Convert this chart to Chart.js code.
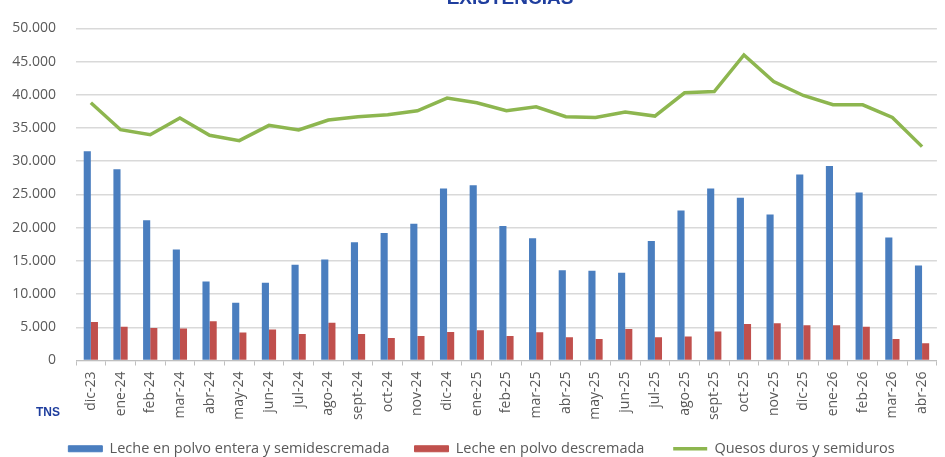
<!DOCTYPE html>
<html><head><meta charset="utf-8">
<script src="https://cdn.jsdelivr.net/npm/chart.js@4"></script>
<style>
html,body{margin:0;padding:0;background:#fff;overflow:hidden;width:945px;height:457px;}
#wrap{position:absolute;left:0;top:0;width:945px;height:466px;}
</style></head><body>
<div id="wrap"><canvas id="c"></canvas></div>
<script>
const categories = ['dic-23','ene-24','feb-24','mar-24','abr-24','may-24','jun-24','jul-24','ago-24','sept-24','oct-24','nov-24','dic-24','ene-25','feb-25','mar-25','abr-25','may-25','jun-25','jul-25','ago-25','sept-25','oct-25','nov-25','dic-25','ene-26','feb-26','mar-26','abr-26'];
const enteraValues = [31500, 28800, 21100, 16700, 11900, 8700, 11700, 14400, 15200, 17800, 19200, 20600, 25900, 26400, 20250, 18400, 13600, 13500, 13200, 18000, 22600, 25900, 24500, 22000, 28000, 29300, 25300, 18500, 14300];
const descremadaValues = [5800, 5100, 4900, 4800, 5900, 4200, 4650, 4000, 5700, 4000, 3400, 3700, 4300, 4550, 3700, 4250, 3500, 3250, 4750, 3500, 3600, 4350, 5500, 5600, 5300, 5300, 5100, 3250, 2600];
const quesosValues = [38800, 34750, 34000, 36500, 33900, 33100, 35400, 34700, 36200, 36700, 37000, 37600, 39500, 38800, 37600, 38200, 36700, 36600, 37400, 36800, 40300, 40500, 46000, 42000, 39900, 38500, 38500, 36600, 32200];
const seriesNames = ['Leche en polvo entera y semidescremada', 'Leche en polvo descremada', 'Quesos duros y semiduros'];
const yTicks = [0, 5000, 10000, 15000, 20000, 25000, 30000, 35000, 40000, 45000, 50000];
const titleText = 'EXISTENCIAS';
const sourceText = 'TNS';

const BLUE = '#4A7EBF', RED = '#C0504D', GREEN = '#8DB64F';
const fmt = v => v === 0 ? '0' : String(v).replace(/\B(?=(\d{3})+(?!\d))/g, '.');
const legendSpacers = ['    ', '     ', ''];

const extraText = {
  id: 'extraText',
  afterLayout(chart) {
    if (chart.legend) { chart.legend.left += 13; chart.legend.right += 13; }
  },
  afterDraw(chart) {
    const ctx = chart.ctx;
    ctx.save();
    ctx.fillStyle = '#1F3E9E';
    ctx.font = "bold 19px 'Liberation Sans', Arial, sans-serif";
    ctx.textAlign = 'center';
    ctx.textBaseline = 'alphabetic';
    ctx.fillText(titleText, 510, 4);
    ctx.font = "bold 12px 'Liberation Sans Narrow', 'Liberation Sans', Arial, sans-serif";
    ctx.textAlign = 'left';
    ctx.textBaseline = 'middle';
    ctx.fillText(sourceText, 36, 413);
    ctx.restore();
  }
};

Chart.defaults.font.family = "'Open Sans', sans-serif";
Chart.defaults.color = '#595959';

new Chart(document.getElementById('c'), {
  type: 'bar',
  data: {
    labels: categories,
    datasets: [
      { type: 'bar', label: seriesNames[0], data: enteraValues, backgroundColor: BLUE, borderColor: BLUE, borderWidth: 0, order: 2, categoryPercentage: 0.48, barPercentage: 1.0 },
      { type: 'bar', label: seriesNames[1], data: descremadaValues, backgroundColor: RED, borderColor: RED, borderWidth: 0, order: 2, categoryPercentage: 0.48, barPercentage: 1.0 },
      { type: 'line', label: seriesNames[2], data: quesosValues, borderColor: GREEN, backgroundColor: GREEN, borderWidth: 3.5, pointRadius: 0, tension: 0, order: 1 }
    ]
  },
  options: {
    responsive: true,
    maintainAspectRatio: false,
    animation: false,
    layout: { padding: { top: 16, right: 8, left: 0, bottom: 0 } },
    plugins: {
      title: { display: false },
      tooltip: { enabled: false },
      legend: {
        position: 'bottom',
        labels: {
          font: { size: 14.5 },
          color: '#595959',
          usePointStyle: true,
          pointStyleWidth: 34,
          boxWidth: 34,
          boxHeight: 6,
          padding: 10,
          generateLabels(chart) {
            return chart.data.datasets.map((ds, i) => ({
              text: ds.label + legendSpacers[i],
              fillStyle: ds.backgroundColor,
              strokeStyle: ds.borderColor,
              lineWidth: ds.type === 'line' ? 3.5 : 1,
              pointStyle: ds.type === 'line' ? 'line' : 'rect',
              rotation: 0,
              hidden: false,
              datasetIndex: i,
              fontColor: '#595959'
            }));
          }
        }
      }
    },
    scales: {
      x: {
        offset: true,
        grid: { offset: true, drawOnChartArea: false, drawTicks: true, tickLength: 5, color: '#BFBFBF' },
        border: { display: true, color: '#BFBFBF', width: 1 },
        ticks: { autoSkip: false, minRotation: 90, maxRotation: 90, padding: 6, font: { size: 14 }, color: '#595959' },
        afterFit(scale) { scale.height = 71; }
      },
      y: {
        min: 0, max: 50000,
        afterBuildTicks(scale) { scale.ticks = yTicks.map(v => ({ value: v })); },
        grid: { color: '#D9D9D9', lineWidth: 1.5, drawTicks: false },
        border: { display: false },
        ticks: { padding: 20, font: { size: 14 }, color: '#595959', callback: v => fmt(v) },
        afterFit(scale) { scale.width = 76; }
      }
    }
  },
  plugins: [extraText]
});
</script>
</body></html>
